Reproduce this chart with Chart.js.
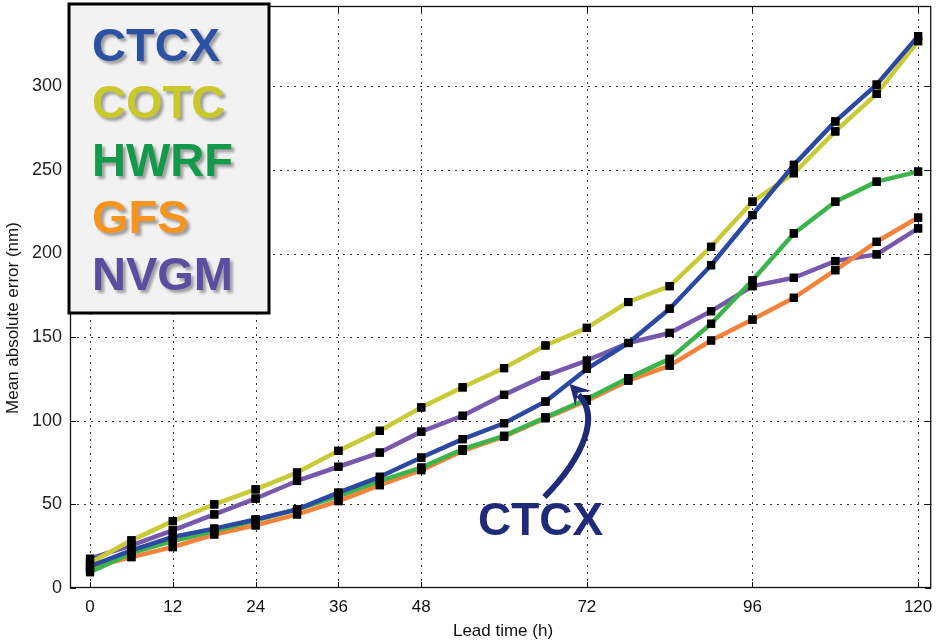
<!DOCTYPE html>
<html>
<head>
<meta charset="utf-8">
<script src="https://cdn.jsdelivr.net/npm/chart.js@4.4.1/dist/chart.umd.min.js"></script>
<style>
  html, body { margin: 0; padding: 0; background: #ffffff; }
  #wrap { width: 937px; height: 644px; position: relative; }
</style>
</head>
<body>
<div id="wrap"><canvas id="c" width="937" height="644"></canvas></div>
<script>
// ---- data ----
const leadHours = [0, 6, 12, 18, 24, 30, 36, 42, 48, 54, 60, 66, 72, 78, 84, 90, 96, 102, 108, 114, 120];
const seriesNames = ['CTCX', 'COTC', 'HWRF', 'GFS', 'NVGM'];
const ctcx = [13, 22.5, 30.5, 35.5, 41, 47, 57, 66.5, 78, 89, 98.5, 111.5, 131, 146.5, 167, 193, 223, 253, 279, 301, 330];
const cotc = [15, 28.5, 40, 50, 59, 69, 82, 94, 108, 120, 131.5, 145, 155.5, 171, 180.5, 204, 231, 248, 273, 295.5, 327];
const hwrf = [9.5, 21, 28, 34, 40.5, 47, 55, 64, 72, 83, 91, 102, 113, 125.5, 137, 158, 184, 212, 231, 243, 249];
const gfs  = [12, 18.5, 24.5, 32, 37.5, 44, 52, 61.5, 70.5, 82, 90.5, 101.5, 112, 124, 133, 148, 160.5, 173.5, 190, 207, 221.5];
const nvgm = [17.5, 25.5, 34.5, 44, 53.5, 64, 72.5, 81, 93.5, 103, 115.5, 127, 136, 146.5, 152.5, 165.5, 180.5, 185.5, 195.5, 199.5, 215];
const xTickValues = [0, 12, 24, 36, 48, 72, 96, 120];
const yTickValues = [0, 50, 100, 150, 200, 250, 300];
const xAxisTitle = 'Lead time (h)';
const yAxisTitle = 'Mean absolute error (nm)';
const annotationLabel = 'CTCX';

// ---- styles ----
const lineColors   = ['#2b48a2', '#c8cb36', '#3cb44b', '#f5823a', '#7659ad'];
const legendColors = ['#2a51a3', '#c9c92e', '#129a4a', '#f7941e', '#5a4ea1'];
const allValues = [ctcx, cotc, hwrf, gfs, nvgm];
const FONT = "'Liberation Sans', Arial, Helvetica, sans-serif";

const datasets = seriesNames.map((name, i) => ({
  label: name,
  data: leadHours.map((h, k) => ({ x: h, y: allValues[i][k] })),
  borderColor: lineColors[i],
  backgroundColor: '#000',
  borderWidth: 4.5,
  tension: 0,
  pointStyle: 'rect',
  pointRadius: 5.8,
  pointBorderWidth: 0,
  pointBackgroundColor: '#000',
  pointBorderColor: '#000',
  fill: false
}));

const framePlugin = {
  id: 'frame',
  beforeDatasetsDraw(chart) {
    const { ctx, chartArea: a, scales: { x, y } } = chart;
    ctx.save();
    ctx.strokeStyle = '#333';
    ctx.lineWidth = 1;
    ctx.setLineDash([2, 5]);
    xTickValues.forEach(v => {
      const px = Math.round(x.getPixelForValue(v)) + 0.5;
      ctx.beginPath(); ctx.moveTo(px, a.bottom); ctx.lineTo(px, a.top); ctx.stroke();
    });
    yTickValues.forEach(v => {
      if (v === 0) return;
      const py = Math.round(y.getPixelForValue(v)) + 0.5;
      ctx.beginPath(); ctx.moveTo(a.left, py); ctx.lineTo(a.right, py); ctx.stroke();
    });
    ctx.restore();
  },
  afterDatasetsDraw(chart) {
    const { ctx, chartArea: a, scales: { x, y } } = chart;
    chart.data.datasets.forEach((ds, i) => {
      const meta = chart.getDatasetMeta(i);
      meta.data.forEach(pt => pt.draw(ctx, a));
    });
    ctx.save();
    ctx.strokeStyle = '#111';
    ctx.lineWidth = 1.3;
    ctx.setLineDash([]);
    ctx.strokeRect(a.left + 0.5, a.top + 0.5, a.right - a.left - 1, a.bottom - a.top - 1);
    ctx.lineWidth = 1;
    const tl = 6;
    xTickValues.forEach(v => {
      const px = Math.round(x.getPixelForValue(v)) + 0.5;
      ctx.beginPath(); ctx.moveTo(px, a.bottom); ctx.lineTo(px, a.bottom - tl); ctx.stroke();
      ctx.beginPath(); ctx.moveTo(px, a.top); ctx.lineTo(px, a.top + tl); ctx.stroke();
    });
    yTickValues.forEach(v => {
      const py = Math.round(y.getPixelForValue(v)) + 0.5;
      ctx.beginPath(); ctx.moveTo(a.left, py); ctx.lineTo(a.left + tl, py); ctx.stroke();
      ctx.beginPath(); ctx.moveTo(a.right, py); ctx.lineTo(a.right - tl, py); ctx.stroke();
    });
    ctx.restore();
  },
  afterDraw(chart) {
    const { ctx, chartArea: a, scales: { x, y } } = chart;
    ctx.save();
    ctx.fillStyle = '#111';
    ctx.font = '17px ' + FONT;
    ctx.textAlign = 'center';
    ctx.textBaseline = 'middle';
    ctx.fillText(xAxisTitle, 503, 631);
    ctx.translate(13, 318);
    ctx.rotate(-Math.PI / 2);
    ctx.fillText(yAxisTitle, 0, 0);
    ctx.restore();

    // legend box
    ctx.save();
    const bx = 69, by = 4, bw = 200, bh = 309;
    ctx.fillStyle = '#f2f2f2';
    ctx.fillRect(bx, by, bw, bh);
    ctx.lineWidth = 3;
    ctx.strokeStyle = '#000';
    ctx.strokeRect(bx, by, bw, bh);
    ctx.font = 'bold 47px ' + FONT;
    ctx.textAlign = 'left';
    ctx.textBaseline = 'alphabetic';
    seriesNames.forEach((name, i) => {
      ctx.save();
      ctx.shadowColor = 'rgba(0,0,0,0.35)';
      ctx.shadowOffsetX = 3;
      ctx.shadowOffsetY = 3;
      ctx.shadowBlur = 3;
      ctx.fillStyle = legendColors[i];
      ctx.fillText(name, 92, 61 + i * 57.3);
      ctx.restore();
    });
    ctx.restore();

    // annotation "CTCX" with curved arrow
    ctx.save();
    const navy = '#1f2a78';
    ctx.fillStyle = navy;
    ctx.strokeStyle = navy;
    ctx.font = 'bold 46px ' + FONT;
    ctx.textAlign = 'center';
    ctx.textBaseline = 'alphabetic';
    ctx.fillText(annotationLabel, x.getPixelForValue(65.3), y.getPixelForValue(31.7));
    const P = (h, v) => [x.getPixelForValue(h), y.getPixelForValue(v)];
    const p0 = P(65.85, 54.4), p1 = P(71.8, 79.5), p2 = P(73.8, 103.3), p3 = P(70.8, 115.5);
    const tip = P(69.5, 122);
    ctx.lineWidth = 6;
    ctx.lineCap = 'butt';
    ctx.beginPath();
    ctx.moveTo(p0[0], p0[1]);
    ctx.bezierCurveTo(p1[0], p1[1], p2[0], p2[1], p3[0], p3[1]);
    ctx.stroke();
    const dx = tip[0] - p2[0], dy = tip[1] - p2[1];
    const len = Math.hypot(dx, dy);
    const ux = dx / len, uy = dy / len;
    const hl = 20, hw = 11;
    const bxp = tip[0] - ux * hl, byp = tip[1] - uy * hl;
    ctx.beginPath();
    ctx.moveTo(tip[0], tip[1]);
    ctx.lineTo(bxp - uy * hw, byp + ux * hw);
    ctx.lineTo(tip[0] - ux * hl * 0.6, tip[1] - uy * hl * 0.6);
    ctx.lineTo(bxp + uy * hw, byp - ux * hw);
    ctx.closePath();
    ctx.fill();
    ctx.restore();
  }
};

new Chart(document.getElementById('c'), {
  type: 'line',
  data: { datasets },
  options: {
    responsive: false,
    animation: false,
    devicePixelRatio: 1,
    layout: { padding: { top: 6, right: 0, left: 0, bottom: 0 } },
    plugins: { legend: { display: false }, tooltip: { enabled: false } },
    elements: { line: { borderJoinStyle: 'round', borderCapStyle: 'round' } },
    scales: {
      x: {
        type: 'linear',
        min: -2.9,
        max: 121.9,
        afterBuildTicks: s => { s.ticks = xTickValues.map(v => ({ value: v })); },
        afterFit: s => { s.height = 56; s.paddingLeft = 0; s.paddingRight = 0; s.paddingTop = 0; s.paddingBottom = 0; },
        grid: { display: false, drawTicks: false },
        border: { display: false },
        ticks: { padding: 9, color: '#111', font: { size: 17, family: FONT }, maxRotation: 0, autoSkip: false }
      },
      y: {
        type: 'linear',
        min: 0,
        max: 348,
        afterBuildTicks: s => { s.ticks = yTickValues.map(v => ({ value: v })); },
        afterFit: s => { s.width = 70; s.paddingLeft = 0; s.paddingRight = 0; s.paddingTop = 0; s.paddingBottom = 0; },
        grid: { display: false, drawTicks: false },
        border: { display: false },
        ticks: { padding: 8, color: '#222', font: { size: 18, family: FONT } }
      }
    }
  },
  plugins: [framePlugin]
});
</script>
</body>
</html>
